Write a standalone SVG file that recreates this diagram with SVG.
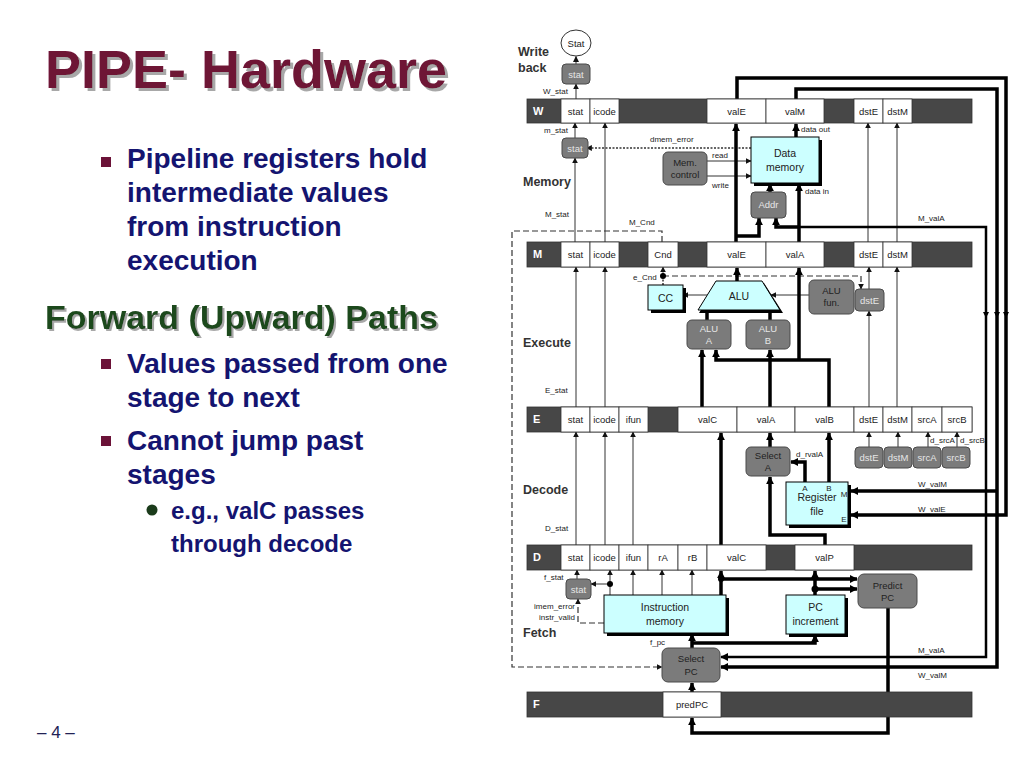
<svg xmlns="http://www.w3.org/2000/svg" width="1024" height="767" viewBox="0 0 1024 767">
<defs>
<marker id="a" viewBox="0 0 10 10" refX="9" refY="5" markerWidth="6" markerHeight="6" markerUnits="userSpaceOnUse" orient="auto"><path d="M0,0 L10,5 L0,10 z" fill="#111"/></marker>
<marker id="ab" viewBox="0 0 10 10" refX="9" refY="5" markerWidth="8" markerHeight="8" markerUnits="userSpaceOnUse" orient="auto"><path d="M0,0 L10,5 L0,10 z" fill="#000"/></marker>
<filter id="ts" x="-5%" y="-20%" width="115%" height="150%"><feFlood flood-color="#a8a8a8"/><feComposite in2="SourceAlpha" operator="in"/><feOffset dx="3" dy="3" result="s"/><feMerge><feMergeNode in="s"/><feMergeNode in="SourceGraphic"/></feMerge></filter>
<filter id="ts2" x="-5%" y="-20%" width="115%" height="150%"><feFlood flood-color="#a8a8a8"/><feComposite in2="SourceAlpha" operator="in"/><feOffset dx="2" dy="2" result="s"/><feMerge><feMergeNode in="s"/><feMergeNode in="SourceGraphic"/></feMerge></filter>
<style>
.sans{font-family:"Liberation Sans",Arial,sans-serif}
.title{font-family:"Liberation Sans",Arial,sans-serif;font-weight:bold}
.b1{font-family:"Liberation Sans",Arial,sans-serif;font-weight:bold;font-size:28px;fill:#141470}
.b2{font-family:"Liberation Sans",Arial,sans-serif;font-weight:bold;font-size:24px;fill:#141470}
.sq{fill:#6b1238}
.rd{fill:#474747;stroke:#333;stroke-width:0.8}
.cell{fill:#fff;stroke:#333;stroke-width:0.8}
.ct{font-family:"Liberation Sans",Arial,sans-serif;font-size:9.5px;fill:#222;text-anchor:middle}
.rl{font-family:"Liberation Sans",Arial,sans-serif;font-size:11px;font-weight:bold;fill:#fff}
.gb{fill:#7b7b7b;stroke:#4a4a4a;stroke-width:1}
.gt{font-family:"Liberation Sans",Arial,sans-serif;font-size:9.5px;fill:#e6e6e6;text-anchor:middle}
.gtd{font-family:"Liberation Sans",Arial,sans-serif;font-size:9.5px;fill:#222;text-anchor:middle}
.cy{fill:#ccffff;stroke:#000;stroke-width:1}
.sh{fill:#000}
.cyt{font-family:"Liberation Sans",Arial,sans-serif;font-size:10.5px;fill:#222;text-anchor:middle}
.lb{font-family:"Liberation Sans",Arial,sans-serif;font-size:8px;fill:#222}
.st{font-family:"Liberation Sans",Arial,sans-serif;font-size:12.5px;font-weight:bold;fill:#333}
.thin{fill:none;stroke:#333;stroke-width:1}
.thick{fill:none;stroke:#000;stroke-width:3.5}
.med{fill:none;stroke:#000;stroke-width:2.5}
.dash{fill:none;stroke:#333;stroke-width:1.2;stroke-dasharray:6 3}
.dot{fill:none;stroke:#333;stroke-width:1.5;stroke-dasharray:2 1.5}
</style>
</defs>
<rect width="1024" height="767" fill="#fff"/>

<g id="slide-text">
<text class="title" x="45" y="88" font-size="54" fill="#6e1236" filter="url(#ts)">PIPE- Hardware</text>
<rect class="sq" x="101" y="157" width="10" height="10"/>
<text class="b1" x="127" y="168">Pipeline registers hold</text>
<text class="b1" x="127" y="202">intermediate values</text>
<text class="b1" x="127" y="236">from instruction</text>
<text class="b1" x="127" y="270">execution</text>
<text class="title" x="45" y="329" font-size="34" fill="#1e4a1e" filter="url(#ts2)">Forward (Upward) Paths</text>
<rect class="sq" x="101" y="359" width="10" height="10"/>
<text class="b1" x="127" y="373">Values passed from one</text>
<text class="b1" x="127" y="407">stage to next</text>
<rect class="sq" x="101" y="436" width="10" height="10"/>
<text class="b1" x="127" y="450">Cannot jump past</text>
<text class="b1" x="127" y="484">stages</text>
<circle cx="152" cy="510" r="5.5" fill="#1b3b1b"/>
<text class="b2" x="171" y="519">e.g., valC passes</text>
<text class="b2" x="171" y="552">through decode</text>
<text class="sans" x="37" y="738" font-size="17" fill="#222255">– 4 –</text>
</g>

<g id="stage-labels">
<text class="st" x="518" y="56">Write</text>
<text class="st" x="518" y="72">back</text>
<text class="st" x="523" y="186">Memory</text>
<text class="st" x="523" y="347">Execute</text>
<text class="st" x="523" y="494">Decode</text>
<text class="st" x="523" y="637">Fetch</text>
</g>

<g id="connectors">
<path class="thin" d="M576,64 V56.5" marker-end="url(#a)"/>
<path class="thin" d="M576,99 V84" marker-end="url(#a)"/>
<path class="thin" d="M575,138 V123" marker-end="url(#a)"/>
<path class="thin" d="M575,242 V158" marker-end="url(#a)"/>
<path class="thin" d="M605,242 V123" marker-end="url(#a)"/>
<path class="thin" d="M868,242 V123" marker-end="url(#a)"/>
<path class="thin" d="M897,242 V123" marker-end="url(#a)"/>
<path class="thin" d="M576,407 V267" marker-end="url(#a)"/>
<path class="thin" d="M605,407 V267" marker-end="url(#a)"/>
<path class="thin" d="M869,289 V267" marker-end="url(#a)"/>
<path class="thin" d="M869,407 V311" marker-end="url(#a)"/>
<path class="thin" d="M897,407 V267" marker-end="url(#a)"/>
<path class="thin" d="M576,545 V432" marker-end="url(#a)"/>
<path class="thin" d="M605,545 V432" marker-end="url(#a)"/>
<path class="thin" d="M633,545 V432" marker-end="url(#a)"/>
<path class="thin" d="M869,447 V432" marker-end="url(#a)"/>
<path class="thin" d="M898,447 V432" marker-end="url(#a)"/>
<path class="thin" d="M928,447 V432" marker-end="url(#a)"/>
<path class="thin" d="M957,447 V432" marker-end="url(#a)"/>
<path class="thin" d="M577,579 V570" marker-end="url(#a)"/>
<path class="thin" d="M610,595 V570" marker-end="url(#a)"/>
<path class="thin" d="M610,584 H591" marker-end="url(#a)"/>
<circle cx="610" cy="584" r="3" fill="#000"/>
<path class="thin" d="M633,595 V570" marker-end="url(#a)"/>
<path class="thin" d="M662,595 V570" marker-end="url(#a)"/>
<path class="thin" d="M692,595 V570" marker-end="url(#a)"/>
<path class="thin" d="M809,295 H771" marker-end="url(#a)"/>
<path class="thin" d="M707,295 H683" marker-end="url(#a)"/>
<path class="thin" d="M707,161 H751" marker-end="url(#a)"/>
<path class="thin" d="M707,176 H751" marker-end="url(#a)"/>
<path class="dot" d="M751,148 H586.5" marker-end="url(#a)"/>
<path class="dash" d="M662,242 V231 H512 V667 H662" marker-end="url(#a)"/>
<path class="dot" d="M663,285 V267" marker-end="url(#a)"/>
<path class="dash" d="M663,276 H861 V289" marker-end="url(#a)"/>
<circle cx="663" cy="276" r="3" fill="#000"/>
<path class="dash" d="M604,623 H578 V599" marker-end="url(#a)"/>
<path class="thick" d="M736,242 V124" marker-end="url(#ab)"/>
<path class="thick" d="M736,236 H759 V218" marker-end="url(#ab)"/>
<path class="thick" d="M737,281 V268" marker-end="url(#ab)"/>
<path class="thick" d="M796,137 V124" marker-end="url(#ab)"/>
<path class="thick" d="M770,192 V184" marker-end="url(#ab)"/>
<path class="thick" d="M799,242 V184" marker-end="url(#ab)"/>
<path class="thick" d="M799,227 H776 V218" marker-end="url(#ab)"/>
<path class="med" d="M799,227 H986 V657 H721" marker-end="url(#ab)"/>
<path class="thick" d="M737,99 V78 H1006 V515 H851" marker-end="url(#ab)"/>
<path class="thick" d="M796,99 V89 H997 V667 H721" marker-end="url(#ab)"/>
<path class="thick" d="M997,491 H851" marker-end="url(#ab)"/>
<path class="thick" d="M707,320 V310"/>
<path class="thick" d="M770,320 V311"/>
<path class="thick" d="M702,407 V350" marker-end="url(#ab)"/>
<path class="thick" d="M829,407 V360 H716 V350" marker-end="url(#ab)"/>
<path class="thick" d="M799,360 V268" marker-end="url(#ab)"/>
<path class="thick" d="M770,407 V350" marker-end="url(#ab)"/>
<path class="thick" d="M770,447 V433" marker-end="url(#ab)"/>
<path class="thick" d="M829,482 V433" marker-end="url(#ab)"/>
<path class="thick" d="M805,482 V462 H791" marker-end="url(#ab)"/>
<path class="thick" d="M825,545 V535 H770 V477" marker-end="url(#ab)"/>
<path class="thick" d="M721,545 V433" marker-end="url(#ab)"/>
<path class="thick" d="M721,595 V571" marker-end="url(#ab)"/>
<path class="thick" d="M721,579 H857" marker-end="url(#ab)"/>
<path class="thick" d="M815,595 V571" marker-end="url(#ab)"/>
<path class="thick" d="M815,589 H857" marker-end="url(#ab)"/>
<circle cx="815" cy="589" r="3.5" fill="#000"/>
<circle cx="721" cy="579" r="3" fill="#000"/>
<path class="thick" d="M692,648 V634" marker-end="url(#ab)"/>
<path class="thick" d="M692,643 H815 V635" marker-end="url(#ab)"/>
<path class="thick" d="M692,692 V683" marker-end="url(#ab)"/>
<path class="thick" d="M888,608 V733 H692 V718" marker-end="url(#ab)"/>
<path d="M983,312 L986,318 L989,312 z M994,312 L997,318 L1000,312 z M1003,312 L1006,318 L1009,312 z" fill="#000"/>
</g>

<g id="signal-labels">
<text class="lb" x="543" y="94">W_stat</text>
<text class="lb" x="544" y="133">m_stat</text>
<text class="lb" x="650" y="142">dmem_error</text>
<text class="lb" x="712" y="158">read</text>
<text class="lb" x="712" y="188">write</text>
<text class="lb" x="801" y="132">data out</text>
<text class="lb" x="805" y="194">data in</text>
<text class="lb" x="545" y="217">M_stat</text>
<text class="lb" x="629" y="225">M_Cnd</text>
<text class="lb" x="918" y="221">M_valA</text>
<text class="lb" x="633" y="280">e_Cnd</text>
<text class="lb" x="545" y="393">E_stat</text>
<text class="lb" x="930" y="443">d_srcA</text>
<text class="lb" x="960" y="443">d_srcB</text>
<text class="lb" x="796" y="457">d_rvalA</text>
<text class="lb" x="918" y="487">W_valM</text>
<text class="lb" x="918" y="512">W_valE</text>
<text class="lb" x="545" y="531">D_stat</text>
<text class="lb" x="544" y="580">f_stat</text>
<text class="lb" x="575" y="609" text-anchor="end">imem_error</text>
<text class="lb" x="575" y="620" text-anchor="end">instr_valid</text>
<text class="lb" x="650" y="645">f_pc</text>
<text class="lb" x="918" y="653">M_valA</text>
<text class="lb" x="918" y="678">W_valM</text>
</g>

<g id="reg-W">
<rect class="rd" x="527" y="99" width="445" height="24"/>
<text class="rl" x="533" y="115">W</text>
<rect class="cell" x="561" y="99" width="29" height="24"/><text class="ct" x="575.5" y="115">stat</text>
<rect class="cell" x="590" y="99" width="29" height="24"/><text class="ct" x="604.5" y="115">icode</text>
<rect class="cell" x="707" y="99" width="59" height="24"/><text class="ct" x="736.5" y="115">valE</text>
<rect class="cell" x="766" y="99" width="58" height="24"/><text class="ct" x="795" y="115">valM</text>
<rect class="cell" x="854" y="99" width="29" height="24"/><text class="ct" x="868.5" y="115">dstE</text>
<rect class="cell" x="883" y="99" width="29" height="24"/><text class="ct" x="897.5" y="115">dstM</text>
</g>

<g id="reg-M">
<rect class="rd" x="527" y="242" width="445" height="25"/>
<text class="rl" x="533" y="258">M</text>
<rect class="cell" x="561" y="242" width="29" height="25"/><text class="ct" x="575.5" y="258">stat</text>
<rect class="cell" x="590" y="242" width="29" height="25"/><text class="ct" x="604.5" y="258">icode</text>
<rect class="cell" x="648" y="242" width="30" height="25"/><text class="ct" x="663" y="258">Cnd</text>
<rect class="cell" x="707" y="242" width="59" height="25"/><text class="ct" x="736.5" y="258">valE</text>
<rect class="cell" x="766" y="242" width="58" height="25"/><text class="ct" x="795" y="258">valA</text>
<rect class="cell" x="854" y="242" width="29" height="25"/><text class="ct" x="868.5" y="258">dstE</text>
<rect class="cell" x="883" y="242" width="29" height="25"/><text class="ct" x="897.5" y="258">dstM</text>
</g>

<g id="reg-E">
<rect class="rd" x="527" y="407" width="445" height="25"/>
<text class="rl" x="533" y="423">E</text>
<rect class="cell" x="561" y="407" width="29" height="25"/><text class="ct" x="575.5" y="423">stat</text>
<rect class="cell" x="590" y="407" width="29" height="25"/><text class="ct" x="604.5" y="423">icode</text>
<rect class="cell" x="619" y="407" width="29" height="25"/><text class="ct" x="633.5" y="423">ifun</text>
<rect class="cell" x="678" y="407" width="59" height="25"/><text class="ct" x="707.5" y="423">valC</text>
<rect class="cell" x="737" y="407" width="58" height="25"/><text class="ct" x="766" y="423">valA</text>
<rect class="cell" x="795" y="407" width="59" height="25"/><text class="ct" x="824.5" y="423">valB</text>
<rect class="cell" x="854" y="407" width="29" height="25"/><text class="ct" x="868.5" y="423">dstE</text>
<rect class="cell" x="883" y="407" width="29" height="25"/><text class="ct" x="897.5" y="423">dstM</text>
<rect class="cell" x="912" y="407" width="30" height="25"/><text class="ct" x="927" y="423">srcA</text>
<rect class="cell" x="942" y="407" width="30" height="25"/><text class="ct" x="957" y="423">srcB</text>
</g>

<g id="reg-D">
<rect class="rd" x="527" y="545" width="445" height="25"/>
<text class="rl" x="533" y="561">D</text>
<rect class="cell" x="561" y="545" width="29" height="25"/><text class="ct" x="575.5" y="561">stat</text>
<rect class="cell" x="590" y="545" width="29" height="25"/><text class="ct" x="604.5" y="561">icode</text>
<rect class="cell" x="619" y="545" width="29" height="25"/><text class="ct" x="633.5" y="561">ifun</text>
<rect class="cell" x="648" y="545" width="30" height="25"/><text class="ct" x="663" y="561">rA</text>
<rect class="cell" x="678" y="545" width="29" height="25"/><text class="ct" x="692.5" y="561">rB</text>
<rect class="cell" x="707" y="545" width="59" height="25"/><text class="ct" x="736.5" y="561">valC</text>
<rect class="cell" x="795" y="545" width="59" height="25"/><text class="ct" x="824.5" y="561">valP</text>
</g>

<g id="reg-F">
<rect class="rd" x="527" y="692" width="445" height="25"/>
<text class="rl" x="533" y="708">F</text>
<rect class="cell" x="663" y="692" width="58" height="25"/><text class="ct" x="692" y="708">predPC</text>
</g>

<g id="Stat"><ellipse cx="576" cy="43" rx="15" ry="13" fill="#fff" stroke="#333"/><text class="ct" x="576" y="46.5">Stat</text></g>
<g id="wb-stat"><rect class="gb" x="562" y="64" width="28" height="20" rx="4"/><text class="gt" x="576" y="77.5">stat</text></g>
<g id="mem-stat"><rect class="gb" x="562" y="138" width="26" height="20" rx="4"/><text class="gt" x="575" y="151.5">stat</text></g>
<g id="mem-control"><rect class="gb" x="663" y="152" width="44" height="33" rx="5"/><text class="gtd" x="685" y="166">Mem.</text><text class="gtd" x="685" y="178">control</text></g>
<g id="data-memory"><rect class="sh" x="754" y="140" width="68" height="46"/><rect class="cy" x="751" y="137" width="68" height="46"/><text class="cyt" x="785" y="157">Data</text><text class="cyt" x="785" y="171">memory</text></g>
<g id="addr"><rect class="gb" x="751" y="192" width="35" height="26" rx="4"/><text class="gt" x="768.5" y="208">Addr</text></g>

<g id="cc"><rect class="sh" x="651" y="288" width="35" height="25"/><rect class="cy" x="648" y="285" width="35" height="25"/><text class="cyt" x="665.5" y="302" font-size="12">CC</text></g>
<g id="alu"><polygon class="sh" points="717,283 764,283 783,313 699,313"/><polygon class="cy" points="716,281 762,281 780,310 698,310"/><text class="cyt" x="739" y="300" font-size="11">ALU</text></g>
<g id="alu-fun"><rect class="gb" x="809" y="280" width="45" height="34" rx="5"/><text class="gtd" x="831.5" y="294">ALU</text><text class="gtd" x="831.5" y="306">fun.</text></g>
<g id="e-dstE"><rect class="gb" x="855" y="289" width="29" height="22" rx="4"/><text class="gt" x="869.5" y="303.5">dstE</text></g>
<g id="alu-a"><rect class="gb" x="687" y="320" width="44" height="29" rx="5"/><text class="gt" x="709" y="332">ALU</text><text class="gt" x="709" y="344">A</text></g>
<g id="alu-b"><rect class="gb" x="746" y="320" width="44" height="29" rx="5"/><text class="gt" x="768" y="332">ALU</text><text class="gt" x="768" y="344">B</text></g>

<g id="select-a"><rect class="gb" x="746" y="447" width="44" height="29" rx="5"/><text class="gtd" x="768" y="459">Select</text><text class="gtd" x="768" y="471">A</text></g>
<g id="d-dstE"><rect class="gb" x="855" y="447" width="28" height="21" rx="4"/><text class="gt" x="869" y="461">dstE</text></g>
<g id="d-dstM"><rect class="gb" x="884" y="447" width="28" height="21" rx="4"/><text class="gt" x="898" y="461">dstM</text></g>
<g id="d-srcA"><rect class="gb" x="913" y="447" width="28" height="21" rx="4"/><text class="gt" x="927" y="461">srcA</text></g>
<g id="d-srcB"><rect class="gb" x="942" y="447" width="28" height="21" rx="4"/><text class="gt" x="956" y="461">srcB</text></g>
<g id="register-file"><rect class="sh" x="789" y="485" width="62" height="43"/><rect class="cy" x="786" y="482" width="62" height="43"/>
<text class="lb" x="805" y="491" text-anchor="middle">A</text><text class="lb" x="829" y="491" text-anchor="middle">B</text>
<text class="cyt" x="817" y="501" font-size="11">Register</text><text class="cyt" x="817" y="515" font-size="11">file</text>
<text class="lb" x="844" y="497" text-anchor="middle">M</text><text class="lb" x="844" y="522" text-anchor="middle">E</text></g>

<g id="f-stat"><rect class="gb" x="566" y="579" width="25" height="20" rx="4"/><text class="gt" x="578.5" y="592.5">stat</text></g>
<g id="instruction-memory"><rect class="sh" x="607" y="598" width="122" height="38"/><rect class="cy" x="604" y="595" width="122" height="38"/><text class="cyt" x="665" y="611">Instruction</text><text class="cyt" x="665" y="625">memory</text></g>
<g id="pc-increment"><rect class="sh" x="789" y="598" width="59" height="39"/><rect class="cy" x="786" y="595" width="59" height="39"/><text class="cyt" x="815.5" y="611">PC</text><text class="cyt" x="815.5" y="625">increment</text></g>
<g id="predict-pc"><rect class="gb" x="858" y="574" width="59" height="34" rx="6"/><text class="gtd" x="887.5" y="589">Predict</text><text class="gtd" x="887.5" y="601">PC</text></g>
<g id="select-pc"><rect class="gb" x="662" y="648" width="58" height="34" rx="6"/><text class="gtd" x="691" y="662">Select</text><text class="gtd" x="691" y="675">PC</text></g>
</svg>
